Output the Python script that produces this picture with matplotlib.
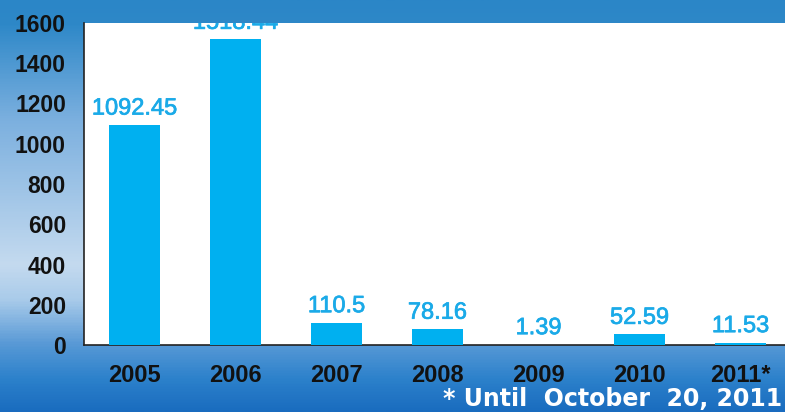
import matplotlib
matplotlib.use("Agg")
import matplotlib.pyplot as plt
import matplotlib.patheffects as pe
import numpy as np
from matplotlib.colors import LinearSegmentedColormap

years = ["2005", "2006", "2007", "2008", "2009", "2010", "2011*"]
values = [1092.45, 1518.44, 110.5, 78.16, 1.39, 52.59, 11.53]
value_labels = ["1092.45", "1518.44", "110.5", "78.16", "1.39", "52.59", "11.53"]
yticks = [0, 200, 400, 600, 800, 1000, 1200, 1400, 1600]
footnote = "* Until  October  20, 2011"

W, H = 785, 412
fig = plt.figure(figsize=(W / 100, H / 100), dpi=100)

# background vertical gradient
bg = fig.add_axes([0, 0, 1, 1])
stops = [(0.0, "#2b86c7"), (23/412, "#2e88c8"), (120/412, "#7cb0df"),
         (265/412, "#c4daef"), (300/412, "#a9cbea"), (345/412, "#5899d6"),
         (380/412, "#2c81cb"), (1.0, "#1a6cbf")]
cmap = LinearSegmentedColormap.from_list("bg", stops)
grad = np.linspace(0, 1, 412).reshape(-1, 1)
bg.imshow(grad, aspect="auto", cmap=cmap, extent=[0, 1, 0, 1], origin="upper")
bg.set_axis_off()

left = 84 / W
bottom = (H - 345) / H
height = 322 / H
width = 707 / W
ax = fig.add_axes([left, bottom, width, height])
ax.set_facecolor("white")

x = np.arange(len(years))
bar_color = "#00b0f0"
ax.bar(x, values, width=0.5, color=bar_color, zorder=3)
for xi, v, lab in zip(x, values, value_labels):
    t = ax.annotate(lab, (xi, v), xytext=(0, 4), textcoords="offset points",
                    ha="center", va="bottom", color="#1aaae8", fontsize=17,
                    family=["Liberation Sans"], annotation_clip=False)
    t.set_path_effects([pe.withStroke(linewidth=0.5, foreground="#1aaae8")])
    t.set_clip_on(True)
    t.set_clip_box(ax.bbox)

ax.set_xlim(-0.5, 6.5)
ax.set_ylim(0, 1600)
ax.set_yticks(yticks)
ax.set_yticklabels([str(t) for t in yticks])
ax.set_xticks(x)
ax.set_xticklabels(years)
for s in ["top", "right"]:
    ax.spines[s].set_visible(False)
for s in ["left", "bottom"]:
    ax.spines[s].set_color("#222222")
    ax.spines[s].set_linewidth(1.2)
ax.tick_params(axis="both", length=0)
ax.tick_params(axis="y", pad=13)
ax.tick_params(axis="x", pad=14)
for lab in ax.get_yticklabels():
    lab.set_fontsize(16.5)
    lab.set_fontweight("bold")
    lab.set_family(["Liberation Sans"])
    lab.set_color("#111111")
for lab in ax.get_xticklabels():
    lab.set_fontsize(17)
    lab.set_fontweight("bold")
    lab.set_family(["Liberation Sans"])
    lab.set_color("#111111")

fig.text(782 / W, 1 - 399 / H, footnote, ha="right", va="center", color="white",
         fontsize=17, fontweight="bold", family=["DejaVu Sans"])

fig.savefig("out.png", dpi=100)
